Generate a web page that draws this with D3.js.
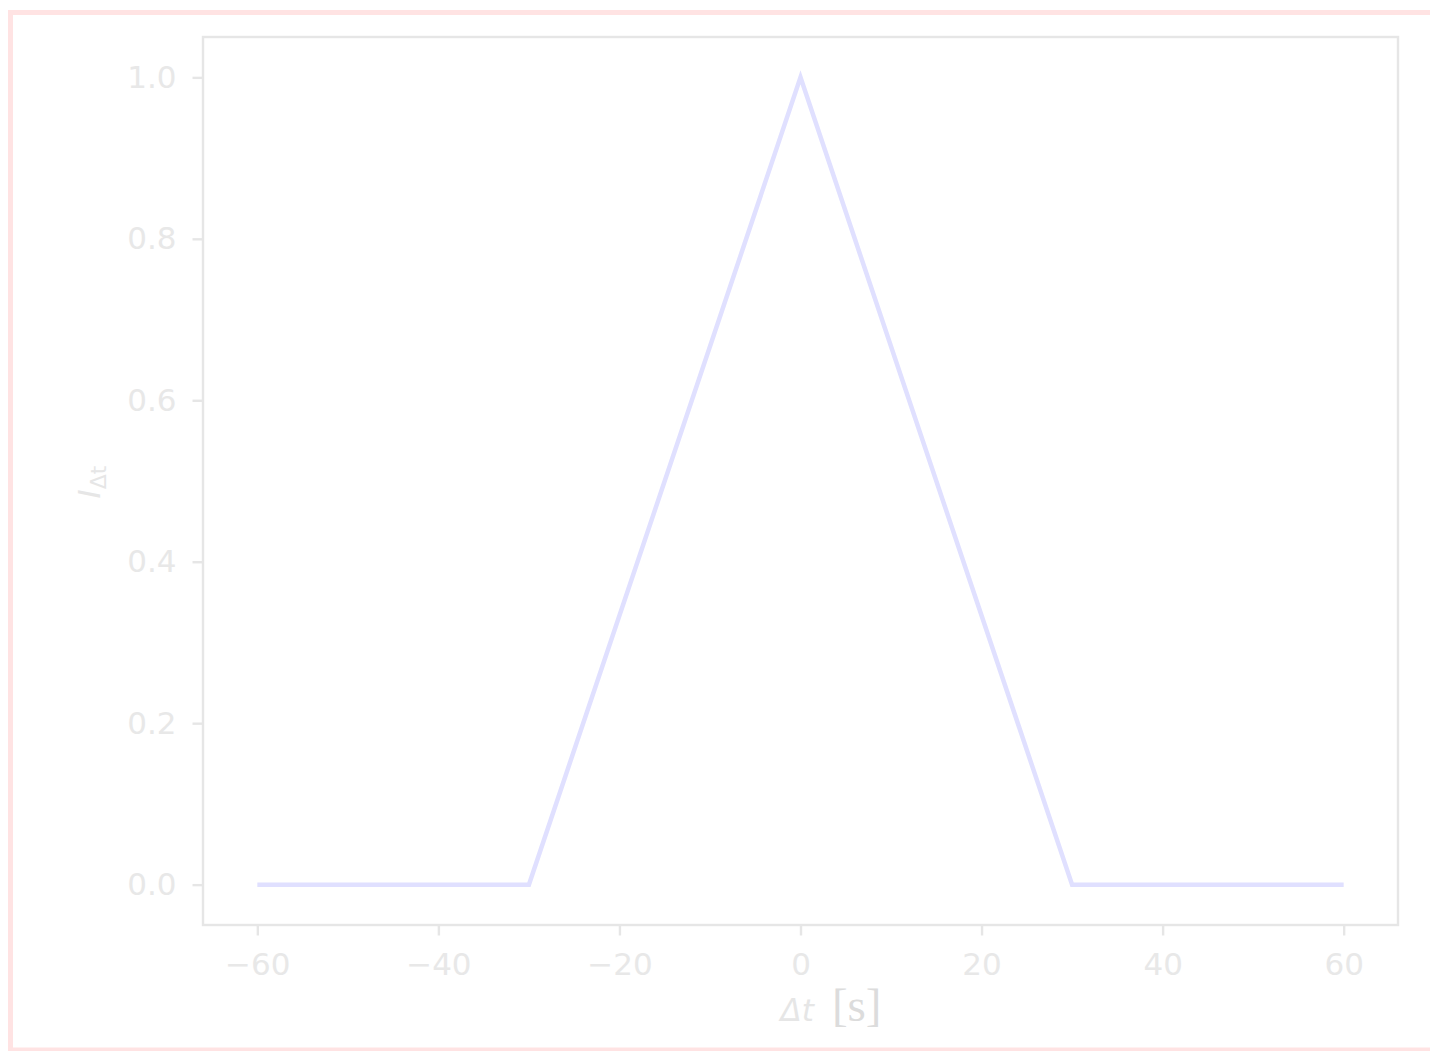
<!DOCTYPE html>
<html>
<head>
<meta charset="utf-8">
<script src="https://cdn.jsdelivr.net/npm/d3@7"></script>
<style>
  html, body { margin: 0; padding: 0; background: #ffffff; }
  svg { display: block; }
</style>
</head>
<body>
<svg id="chart" width="1430" height="1051"></svg>
<script>
// Triangular kernel I_Δt over the time offset Δt
const dtValues = [-60, -30, 0, 30, 60];
const kernelValues = [0, 0, 1, 0, 0];
const xTicks = [-60, -40, -20, 0, 20, 40, 60];
const yTicks = [0.0, 0.2, 0.4, 0.6, 0.8, 1.0];

const svg = d3.select("#chart");
const W = 1430;

// outer figure border
svg.append("rect")
  .attr("x", 10.5).attr("y", 12.5)
  .attr("width", W + 20).attr("height", 1037.5)
  .attr("fill", "none")
  .attr("stroke", "#ffe3e3")
  .attr("stroke-width", 5);

const plot = { left: 203, right: 1398, top: 37, bottom: 925 };

const x = d3.scaleLinear().domain([-66, 66]).range([plot.left, plot.right]);
const y = d3.scaleLinear().domain([-0.05, 1.05]).range([plot.bottom, plot.top]);

const axisColor = "#e6e6e6";
const textColor = "#e8e8e8";
const font = "'DejaVu Sans', sans-serif";

// x axis
const xAxis = svg.append("g")
  .attr("transform", `translate(0,${plot.bottom})`)
  .call(d3.axisBottom(x).tickValues(xTicks).tickSize(10.5).tickPadding(17)
    .tickFormat(d => d < 0 ? "\u2212" + Math.abs(d) : String(d)));
xAxis.select(".domain").remove();
xAxis.selectAll("line").attr("stroke", axisColor).attr("stroke-width", 2.4);
xAxis.selectAll("text").attr("fill", textColor).attr("font-family", font).attr("font-size", 31);

// y axis
const yAxis = svg.append("g")
  .attr("transform", `translate(${plot.left},0)`)
  .call(d3.axisLeft(y).tickValues(yTicks).tickSize(10.5).tickPadding(16)
    .tickFormat(d3.format(".1f")));
yAxis.select(".domain").remove();
yAxis.selectAll("line").attr("stroke", axisColor).attr("stroke-width", 2.4);
yAxis.selectAll("text").attr("fill", textColor).attr("font-family", font).attr("font-size", 31);

// data line
const pts = dtValues.map((d, i) => [d, kernelValues[i]]);
svg.append("path")
  .datum(pts)
  .attr("fill", "none")
  .attr("stroke", "#e0e0ff")
  .attr("stroke-width", 4.5)
  .attr("stroke-linejoin", "miter")
  .attr("d", d3.line().x(d => x(d[0])).y(d => y(d[1])));

// plot frame
svg.append("rect")
  .attr("x", plot.left).attr("y", plot.top)
  .attr("width", plot.right - plot.left).attr("height", plot.bottom - plot.top)
  .attr("fill", "none")
  .attr("stroke", axisColor)
  .attr("stroke-width", 2.4);

// x label: Δt [s]
const xl = svg.append("text")
  .attr("x", 831).attr("y", 1021)
  .attr("text-anchor", "middle");
xl.append("tspan")
  .attr("font-family", font).attr("font-style", "italic")
  .attr("font-size", 31).attr("fill", "#e6e6e6")
  .text("\u0394t");
xl.append("tspan")
  .attr("font-family", "'Liberation Serif', 'DejaVu Serif', serif")
  .attr("font-size", 47).attr("fill", "#dcdcdc")
  .attr("dx", 18)
  .text("[s]");

// y label: I_Δt
const yl = svg.append("text")
  .attr("transform", "translate(100,482) rotate(-90)")
  .attr("text-anchor", "middle")
  .attr("font-family", font).attr("fill", "#e6e6e6");
yl.append("tspan").attr("font-style", "italic").attr("font-size", 31).text("I");
yl.append("tspan").attr("font-size", 22).attr("dy", 6).text("\u0394t");
</script>
</body>
</html>
